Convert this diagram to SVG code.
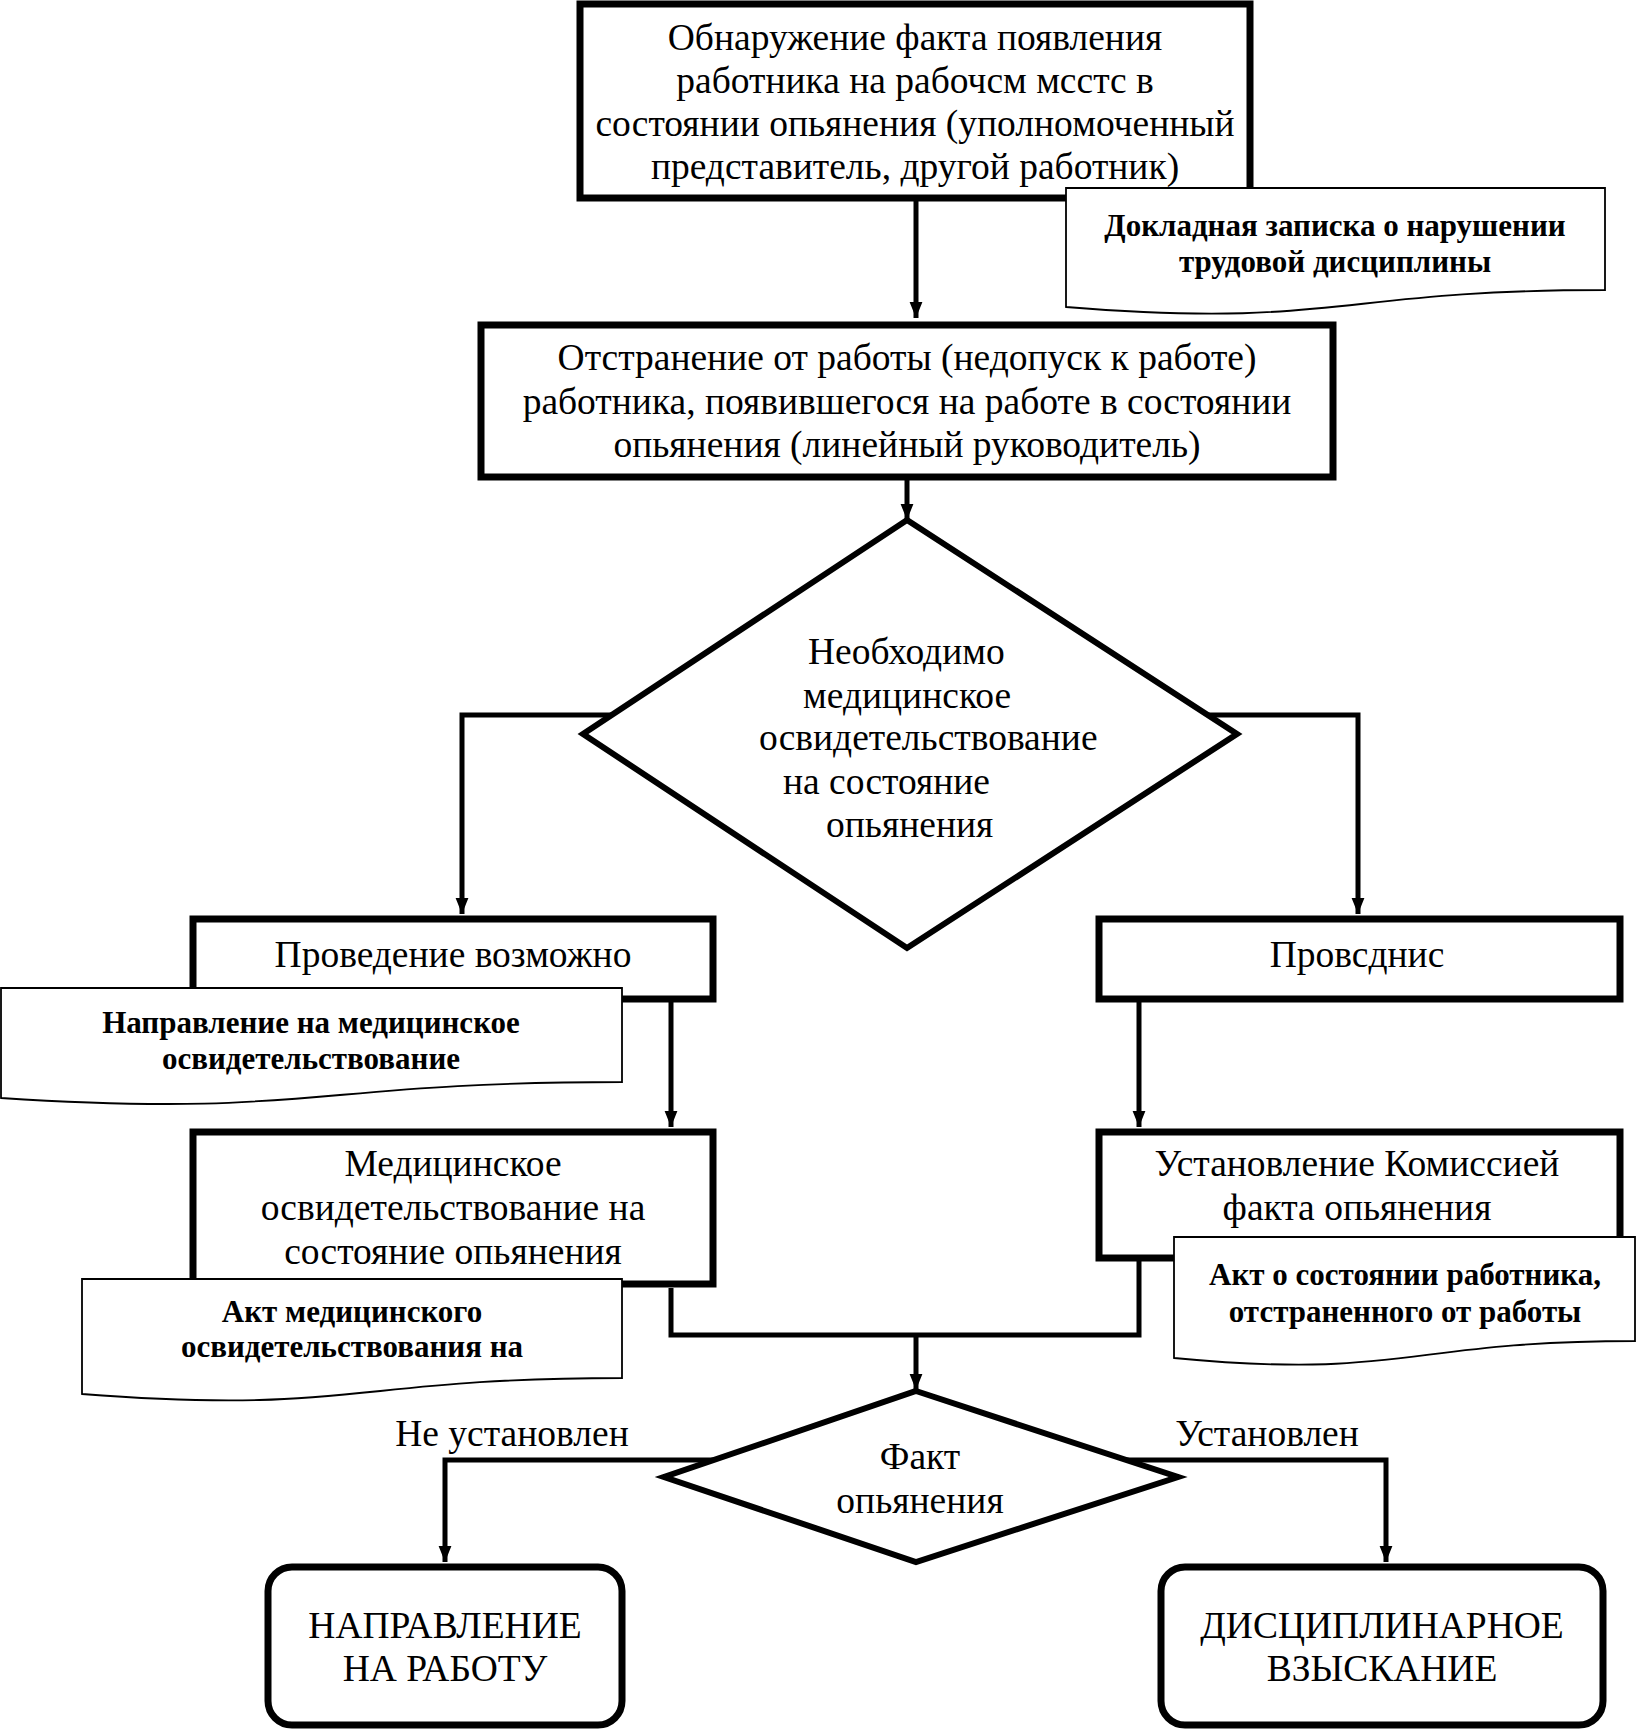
<svg xmlns="http://www.w3.org/2000/svg" width="1637" height="1734" viewBox="0 0 1637 1734">
<style>
.bg{fill:#fff}
.box{fill:#fff;stroke:#000;stroke-width:7}
.dia{fill:#fff;stroke:#000;stroke-width:6}
.note{fill:#fff;stroke:#000;stroke-width:1.8}
.con{fill:none;stroke:#000;stroke-width:5}
.t{font-family:"Liberation Serif","Times New Roman",serif;font-size:37.5px;fill:#000;text-anchor:middle}
.ts{font-family:"Liberation Serif","Times New Roman",serif;font-size:37.5px;fill:#000}
.tb{font-family:"Liberation Serif","Times New Roman",serif;font-size:31px;font-weight:bold;fill:#000;text-anchor:middle}
</style>
<defs>
<marker id="ah" markerUnits="userSpaceOnUse" markerWidth="16" markerHeight="22" refX="20" refY="8" orient="auto" viewBox="0 0 20 16">
<path d="M0,0 L20,8 L0,16 Z" fill="#000"/>
</marker>
</defs>
<rect class="bg" x="0" y="0" width="1637" height="1734"/>
<g id="connectors">
<path class="con" d="M916,201 V318" marker-end="url(#ah)"/>
<path class="con" d="M907,480 V520" marker-end="url(#ah)"/>
<path class="con" d="M612,715 H462 V914" marker-end="url(#ah)"/>
<path class="con" d="M1208,715 H1358 V914" marker-end="url(#ah)"/>
<path class="con" d="M671,1002 V1127" marker-end="url(#ah)"/>
<path class="con" d="M1139,1002 V1127" marker-end="url(#ah)"/>
<path class="con" d="M671,1288 V1335 H1139 V1261"/>
<path class="con" d="M916,1335 V1390" marker-end="url(#ah)"/>
<path class="con" d="M714,1460 H445 V1562" marker-end="url(#ah)"/>
<path class="con" d="M1126,1460 H1386 V1562" marker-end="url(#ah)"/>
</g>
<g id="node-detect">
<rect class="box" x="580" y="4" width="670" height="194"/>
<text class="t" x="915" y="50">Обнаружение факта появления</text>
<text class="t" x="915" y="93">работника на рабочсм мсстс в</text>
<text class="t" x="915" y="136">состоянии опьянения (уполномоченный</text>
<text class="t" x="915" y="179">представитель, другой работник)</text>
</g>
<g id="node-suspend">
<rect class="box" x="481" y="325" width="852" height="152"/>
<text class="t" x="907" y="370">Отстранение от работы (недопуск к работе)</text>
<text class="t" x="907" y="414">работника, появившегося на работе в состоянии</text>
<text class="t" x="907" y="457">опьянения (линейный руководитель)</text>
</g>
<g id="node-decision1">
<polygon class="dia" points="907,520 1237,734 907,948 583,734"/>
<text class="ts" x="808" y="664">Необходимо</text>
<text class="ts" x="803" y="708">медицинское</text>
<text class="ts" x="759" y="750">освидетельствование</text>
<text class="ts" x="783" y="794">на состояние</text>
<text class="ts" x="826" y="837">опьянения</text>
</g>
<g id="node-possible">
<rect class="box" x="193" y="919" width="520" height="80"/>
<text class="t" x="453" y="967">Проведение возможно</text>
</g>
<g id="node-impossible">
<rect class="box" x="1099" y="919" width="521" height="80"/>
<text class="t" x="1357" y="967">Провсднис</text>
</g>
<g id="node-medexam">
<rect class="box" x="193" y="1132" width="520" height="152"/>
<text class="t" x="453" y="1176">Медицинское</text>
<text class="t" x="453" y="1220">освидетельствование на</text>
<text class="t" x="453" y="1264">состояние опьянения</text>
</g>
<g id="node-commission">
<rect class="box" x="1099" y="1132" width="521" height="126"/>
<text class="t" x="1357" y="1176">Установление Комиссией</text>
<text class="t" x="1357" y="1220">факта опьянения</text>
</g>
<g id="node-decision2">
<polygon class="dia" points="916,1391 1178,1477 916,1562 664,1477"/>
<text class="t" x="920" y="1469">Факт</text>
<text class="t" x="920" y="1513">опьянения</text>
</g>
<g id="labels">
<text class="t" x="512" y="1446">Не установлен</text>
<text class="t" x="1267" y="1446">Установлен</text>
</g>
<g id="node-return">
<rect class="box" x="268" y="1567" width="354" height="158" rx="24"/>
<text class="t" x="445" y="1638">НАПРАВЛЕНИЕ</text>
<text class="t" x="445" y="1681">НА РАБОТУ</text>
</g>
<g id="node-penalty">
<rect class="box" x="1161" y="1567" width="442" height="158" rx="24"/>
<text class="t" x="1382" y="1638">ДИСЦИПЛИНАРНОЕ</text>
<text class="t" x="1382" y="1681">ВЗЫСКАНИЕ</text>
</g>
<g id="note-memo">
<path class="note" d="M1066,188 H1605 V290 C1335,290 1335,329 1066,307 Z"/>
<text class="tb" x="1335" y="236">Докладная записка о нарушении</text>
<text class="tb" x="1335" y="272">трудовой дисциплины</text>
</g>
<g id="note-referral">
<path class="note" d="M1,988 H622 V1082 C311,1082 311,1118 1,1098 Z"/>
<text class="tb" x="311" y="1033">Направление на медицинское</text>
<text class="tb" x="311" y="1069">освидетельствование</text>
</g>
<g id="note-medact">
<path class="note" d="M82,1279 H622 V1378 C352,1378 352,1415 82,1394 Z"/>
<text class="tb" x="352" y="1322">Акт медицинского</text>
<text class="tb" x="352" y="1357">освидетельствования на</text>
</g>
<g id="note-stateact">
<path class="note" d="M1174,1237 H1635 V1341 C1405,1341 1405,1380 1174,1358 Z"/>
<text class="tb" x="1405" y="1285">Акт о состоянии работника,</text>
<text class="tb" x="1405" y="1322">отстраненного от работы</text>
</g>
</svg>
